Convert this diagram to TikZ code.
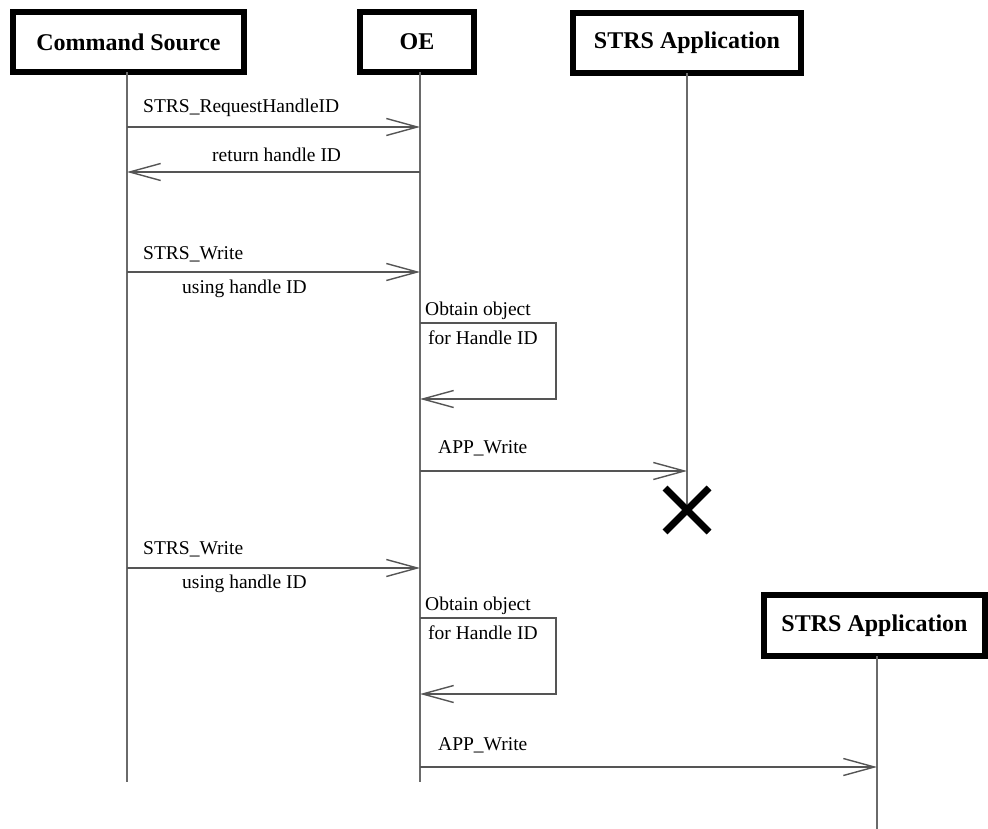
\documentclass[tikz,border=0pt]{standalone}
\usepackage{fontspec}
\setmainfont{Liberation Serif}
\usetikzlibrary{arrows.meta}
\definecolor{lifegray}{HTML}{6A6A6A}
\definecolor{msggray}{HTML}{555555}
\begin{document}
\begin{tikzpicture}[x=1pt,y=-1pt,
  actor/.style={draw=black,line width=6.5pt,fill=white,inner sep=0pt,
    font=\fontsize{24}{27}\selectfont\bfseries},
  lifeline/.style={draw=lifegray,line width=2pt},
  msg/.style={draw=msggray,line width=1.6pt,
    -{Straight Barb[length=31pt,width=17pt,line width=1.4pt]}},
  lbl/.style={anchor=west,inner sep=0pt,font=\fontsize{19.5}{22}\selectfont},
  killx/.style={draw=black,line width=7pt}]
\useasboundingbox (0,0) rectangle (988,829);

% actors
\node[actor,minimum width=231pt,minimum height=60pt] (cs) at (128.5,42) {Command Source};
\node[actor,minimum width=114pt,minimum height=60pt] (oe) at (417,42) {OE};
\node[actor,minimum width=228pt,minimum height=60pt] (app1) at (687,43) {STRS Application};
\node[actor,minimum width=221pt,minimum height=61pt] (app2) at (874.5,625.5) {STRS Application};

% lifeline end points
\coordinate (csEnd) at (127,782);
\coordinate (oeEnd) at (420,782);
\coordinate (app1End) at (687,510);
\coordinate (app2End) at (877,829);

\draw[lifeline] (127,72) coordinate (csTop) -- (csEnd);
\draw[lifeline] (420,72) coordinate (oeTop) -- (oeEnd);
\draw[lifeline] (687,73) coordinate (app1Top) -- (app1End);
\draw[lifeline] (877,656) coordinate (app2Top) -- (app2End);

% message anchor points on lifelines
\coordinate (m1a) at (127,127); \coordinate (m1b) at (420,127);
\coordinate (m2a) at (420,172); \coordinate (m2b) at (127,172);
\coordinate (m3a) at (127,272); \coordinate (m3b) at (420,272);
\coordinate (s1a) at (420,323); \coordinate (s1b) at (420,399);
\coordinate (m4a) at (420,471); \coordinate (m4b) at (687,471);
\coordinate (m5a) at (127,568); \coordinate (m5b) at (420,568);
\coordinate (s2a) at (420,618); \coordinate (s2b) at (420,694);
\coordinate (m6a) at (420,767); \coordinate (m6b) at (877,767);

% messages
\draw[msg] (m1a) -- (m1b);
\node[lbl] (l1) at (143,108) {STRS\_RequestHandleID};
\draw[msg] (m2a) -- (m2b);
\node[lbl] (l2) at (212,155) {return handle ID};

\draw[msg] (m3a) -- (m3b);
\node[lbl] (l3) at (143,254) {STRS\_Write};
\node[lbl] (l3b) at (182,289) {using handle ID};

\node[lbl] (l4) at (425,311) {Obtain object};
\node[lbl] (l4b) at (428,338) {for Handle ID};
\draw[msg] (s1a) -- (556,323) -- (556,399) -- (s1b);

\draw[msg] (m4a) -- (m4b);
\node[lbl] (l5) at (438,448) {APP\_Write};

% destruction mark
\draw[killx] (665,488) -- (709,532);
\draw[killx] (665,532) -- (709,488);

\draw[msg] (m5a) -- (m5b);
\node[lbl] (l6) at (143,549) {STRS\_Write};
\node[lbl] (l6b) at (182,584) {using handle ID};

\node[lbl] (l7) at (425,606) {Obtain object};
\node[lbl] (l7b) at (428,633) {for Handle ID};
\draw[msg] (s2a) -- (556,618) -- (556,694) -- (s2b);

\draw[msg] (m6a) -- (m6b);
\node[lbl] (l8) at (438,745) {APP\_Write};
\end{tikzpicture}
\end{document}
